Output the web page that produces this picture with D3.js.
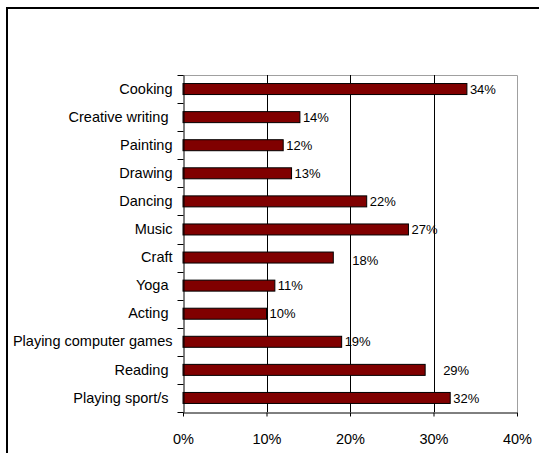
<!DOCTYPE html>
<html>
<head>
<meta charset="utf-8">
<script src="https://cdn.jsdelivr.net/npm/d3@7"></script>
<style>
  html, body { margin: 0; padding: 0; background: #fff; }
  svg { display: block; }
  text { font-family: "Liberation Sans", Arial, sans-serif; }
</style>
</head>
<body>
<svg id="chart" width="539" height="453"></svg>
<script>
// Activities, top to bottom (trailing spaces are part of some labels)
const categories = [
  "Cooking", "Creative writing ", "Painting", "Drawing", "Dancing", "Music",
  "Craft", "Yoga ", "Acting ", "Playing computer games", "Reading ", "Playing sport/s "
];
// Share of respondents, percent
const values = [34, 14, 12, 13, 22, 27, 18, 11, 10, 19, 29, 32];
// Value axis ticks, percent
const xTicks = [0, 10, 20, 30, 40];
// A few data labels sit displaced from their bar ends
const labelNudge = { "Craft": [16, 3], "Reading ": [15, 0] };

const svg = d3.select("#chart");

// Chart-area frame (runs past the right and bottom edges)
svg.append("rect")
  .attr("x", 7).attr("y", 8).attr("width", 560).attr("height", 480)
  .attr("fill", "none").attr("stroke", "#000").attr("stroke-width", 2);

const plot = { left: 183, right: 517, top: 75, bottom: 412 };

const x = d3.scaleLinear().domain([0, 40]).range([plot.left, plot.right]);
const y = d3.scaleBand().domain(categories).range([plot.top, plot.bottom]).paddingInner(0).paddingOuter(0);
const barH = 11;

// Plot-area border (top and right, grey)
svg.append("path")
  .attr("d", `M${plot.left},${plot.top + 0.5}H${plot.right + 0.5}V${plot.bottom}`)
  .attr("fill", "none").attr("stroke", "#a0a0a0").attr("stroke-width", 1);

// Vertical gridlines
svg.append("g")
  .selectAll("line")
  .data(xTicks.filter(t => t > 0 && t < 40))
  .join("line")
  .attr("x1", d => Math.round(x(d)) + 0.5).attr("x2", d => Math.round(x(d)) + 0.5)
  .attr("y1", plot.top).attr("y2", plot.bottom)
  .attr("stroke", "#000").attr("stroke-width", 1);

// Bars
svg.append("g")
  .selectAll("rect")
  .data(categories)
  .join("rect")
  .attr("x", x(0))
  .attr("y", (d) => y(d) + y.bandwidth() / 2 - barH / 2)
  .attr("width", (d, i) => x(values[i]) - x(0))
  .attr("height", barH)
  .attr("fill", "#800000")
  .attr("stroke", "#000")
  .attr("stroke-width", 1);

// Data labels
svg.append("g")
  .selectAll("text")
  .data(categories)
  .join("text")
  .attr("x", (d, i) => x(values[i]) + 3 + (labelNudge[d] ? labelNudge[d][0] : 0))
  .attr("y", (d) => y(d) + y.bandwidth() / 2 + (labelNudge[d] ? labelNudge[d][1] : 0))
  .attr("dy", "0.36em")
  .attr("font-size", 13)
  .attr("fill", "#000")
  .text((d, i) => values[i] + "%");

// Category axis
const yAxis = d3.axisLeft(y).tickSize(0).tickPadding(11);
const gy = svg.append("g").attr("transform", `translate(${plot.left + 0.5},0)`).call(yAxis);
gy.attr("font-size", null).attr("font-family", null);
gy.select(".domain").attr("stroke", "#000");
gy.selectAll("text").attr("font-size", 14.5).attr("fill", "#000")
  .style("white-space", "pre").attr("xml:space", "preserve");
// Category separator ticks on band boundaries
gy.append("g").selectAll("line")
  .data(categories.map(c => y(c)).concat([plot.bottom]))
  .join("line")
  .attr("x1", -6).attr("x2", 0)
  .attr("y1", d => Math.round(d) + 0.5).attr("y2", d => Math.round(d) + 0.5)
  .attr("stroke", "#000");

// Value axis
const xAxis = d3.axisBottom(x).tickValues(xTicks).tickFormat(d => d + "%").tickSize(4).tickSizeOuter(0).tickPadding(17);
const gx = svg.append("g").attr("transform", `translate(0,${plot.bottom + 0.5})`).call(xAxis);
gx.attr("font-size", null).attr("font-family", null);
gx.select(".domain").attr("stroke", "#000");
gx.selectAll(".tick line").attr("stroke", "#000");
gx.selectAll("text").attr("font-size", 14.5).attr("fill", "#000");
</script>
</body>
</html>
